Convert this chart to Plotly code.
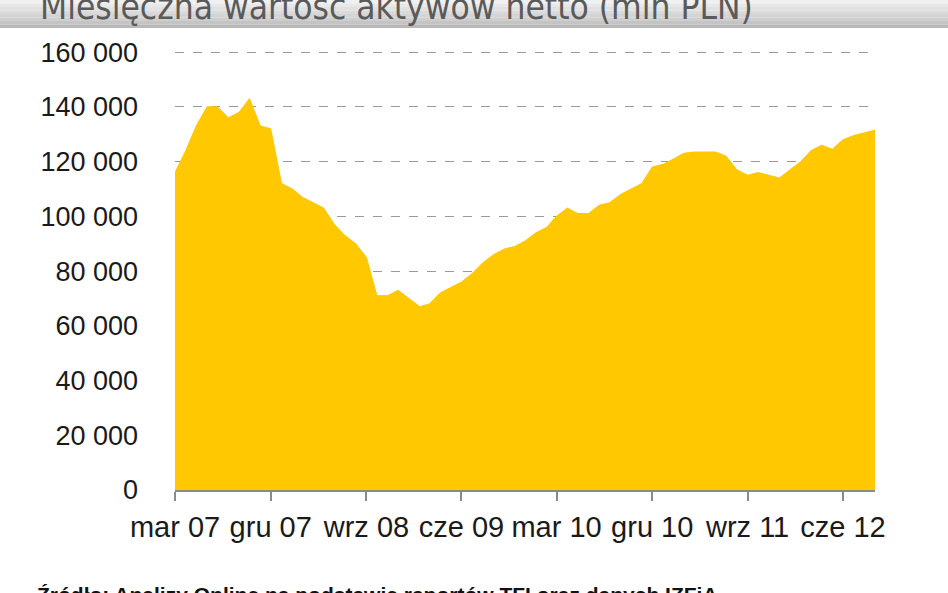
import pandas as pd
import plotly.graph_objects as go

# Monthly net asset value (mln PLN), Mar 2007 - Sep 2012
months = pd.date_range("2007-03-01", "2012-09-01", freq="MS")
values = [
    116000, 124000, 133000, 140000, 140000, 136000, 138000, 143000, 133000, 132000,  # mar07-dec07
    112000, 110000, 107000, 105000, 103000, 97000, 93000, 90000, 85000, 71000,        # jan08-oct08
    71000, 73000, 70000, 67000, 68000, 72000, 74000, 76000, 79000, 83000,            # nov08-aug09
    86000, 88000, 89000, 91000, 94000, 96000, 100000, 103000, 101000, 101000,         # sep09-jun10
    104000, 105000, 108000, 110000, 112000, 118000, 119000, 121000, 123000, 123500,   # jul10-apr11
    123500, 123500, 122000, 117000, 115000, 116000, 115000, 114000, 117000, 120000,   # may11-feb12
    124000, 126000, 124500, 128000, 129500, 130500, 131500,                           # mar12-sep12
]

tick_dates = ["2007-03-01", "2007-12-01", "2008-09-01", "2009-06-01",
              "2010-03-01", "2010-12-01", "2011-09-01", "2012-06-01"]
tick_labels = ["mar 07", "gru 07", "wrz 08", "cze 09",
               "mar 10", "gru 10", "wrz 11", "cze 12"]
y_ticks = [0, 20000, 40000, 60000, 80000, 100000, 120000, 140000, 160000]
y_labels = ["0", "20 000", "40 000", "60 000", "80 000", "100 000",
            "120 000", "140 000", "160 000"]

title_text = "Miesięczna wartość aktywów netto (mln PLN)"
source_text = "Źródło: Analizy Online na podstawie raportów TFI oraz danych IZFiA"

# plot area geometry (pixels)
L, R, T, B = 175, 875, 51, 490
W, H = R - L, B - T

fig = go.Figure()
fig.add_trace(go.Scatter(
    x=months, y=values, mode="lines", fill="tozeroy",
    fillcolor="#FFC800", line=dict(color="#FFC800", width=1),
    hoverinfo="skip", showlegend=False,
))

# title band (vertical gradient approximated by strips)
band_cols = ["#f0f0f0", "#e8e8e8", "#e1e1e1", "#dadada", "#d4d4d4", "#cecece", "#c4c4c4", "#b8b8b8"]
band_h = 28
n = len(band_cols)
for i, c in enumerate(band_cols):
    y0 = i * band_h / n
    y1 = (i + 1) * band_h / n
    fig.add_shape(type="rect", xref="paper", yref="paper",
                  x0=-1, x1=2,
                  y0=(B - y1) / H, y1=(B - y0) / H,
                  fillcolor=c, line=dict(width=0), layer="below")

fig.add_annotation(
    text=title_text, xref="paper", yref="paper",
    x=(38 - L) / W, y=(B - 29) / H, xanchor="left", yanchor="bottom",
    showarrow=False,
    font=dict(family="Liberation Sans Narrow, DejaVu Sans Condensed, Roboto, sans-serif",
              size=35, color="#5a5a5a"),
)
fig.add_annotation(
    text="<b>" + source_text + "</b>", xref="paper", yref="paper",
    x=(35 - L) / W, y=(B - 581) / H, xanchor="left", yanchor="top",
    showarrow=False,
    font=dict(family="Liberation Sans, Arial, sans-serif", size=21, color="#111111"),
)

fig.update_layout(
    width=948, height=593,
    margin=dict(l=L, r=948 - R, t=T, b=593 - B),
    paper_bgcolor="white", plot_bgcolor="white",
    font=dict(family="Liberation Sans, Arial, sans-serif", size=28, color="#1a1a1a"),
    xaxis=dict(
        type="date", range=["2007-03-01", "2012-09-01"],
        tickmode="array", tickvals=tick_dates, ticktext=tick_labels,
        showline=True, linecolor="#8a8a8a", linewidth=1.5,
        ticks="outside", ticklen=9, tickcolor="#8a8a8a", tickwidth=1.5,
        showgrid=False, zeroline=False, ticklabelstandoff=1,
        tickfont=dict(size=29),
    ),
    yaxis=dict(
        range=[0, 160400], tickmode="array", tickvals=y_ticks, ticktext=y_labels,
        showline=False, showgrid=True, gridcolor="#9a9a9a", griddash="dash",
        gridwidth=1, zeroline=False, ticks="", ticklabelstandoff=36,
        tickfont=dict(size=27),
    ),
)

fig.write_html("out.html", config={"displayModeBar": False},
               post_script="document.body.style.margin='0';document.body.style.padding='0';")
